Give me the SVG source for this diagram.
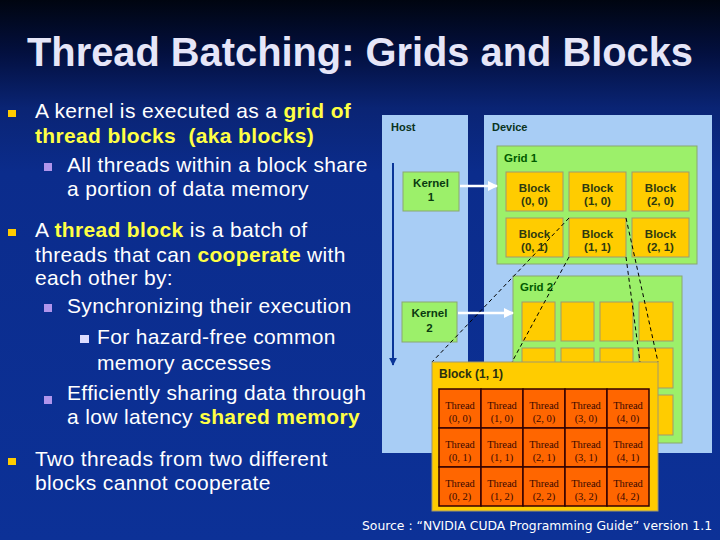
<svg xmlns="http://www.w3.org/2000/svg" width="720" height="540" viewBox="0 0 720 540">
<defs>
<linearGradient id="bg" x1="0" y1="0" x2="0" y2="1">
<stop offset="0" stop-color="#000510"/>
<stop offset="0.1" stop-color="#031040"/>
<stop offset="0.2" stop-color="#0a2474"/>
<stop offset="0.32" stop-color="#0b2c8c"/>
<stop offset="1" stop-color="#0c3197"/>
</linearGradient>
<marker id="wh" viewBox="0 0 10 10" refX="9" refY="5" markerWidth="4" markerHeight="4" orient="auto" markerUnits="strokeWidth">
<path d="M0,0 L10,5 L0,10 Z" fill="#ffffff"/>
</marker>
<marker id="bh" viewBox="0 0 10 10" refX="9" refY="5" markerWidth="4" markerHeight="4" orient="auto" markerUnits="strokeWidth">
<path d="M0,0 L10,5 L0,10 Z" fill="#0a3598"/>
</marker>
<style>
.t{font-family:"Liberation Sans",Arial,sans-serif;font-size:21px;fill:#ffffff;letter-spacing:0.35px}
.y{fill:#ffff44;font-weight:bold}
.lbl{font-family:"Liberation Sans",Arial,sans-serif;font-size:11px;font-weight:bold;fill:#0a3320}
.glbl{font-family:"Liberation Sans",Arial,sans-serif;font-size:11.5px;font-weight:bold;fill:#005a00}
.bt{font-family:"Liberation Sans",Arial,sans-serif;font-size:11.5px;font-weight:bold;fill:#2e3a10;text-anchor:middle}
.kt{font-family:"Liberation Sans",Arial,sans-serif;font-size:11.5px;font-weight:bold;fill:#0a3a10;text-anchor:middle}
.th{font-family:"Liberation Serif","Times New Roman",serif;font-size:10.5px;fill:#3a0800;text-anchor:middle}
.panel{fill:#a8cdf5}
.grid{fill:#9cf06a;stroke:#8aa870;stroke-width:1}
.blk{fill:#ffcc00;stroke:#a09870;stroke-width:1}
.cell{fill:#ff6600;stroke:#330000;stroke-width:1.5}
.dash{stroke:#000000;stroke-width:1;stroke-dasharray:4,3;fill:none}
.arr{stroke:#ffffff;stroke-width:2.5;fill:none}
.b1{fill:#ffcc00}
.b2{fill:#b095ec}
.b3{fill:#dcdcff}
</style>
</defs>
<rect width="720" height="540" fill="url(#bg)"/>
<text x="27" y="66" font-family="'Liberation Sans',Arial,sans-serif" font-size="40" font-weight="bold" fill="#e6e6f8" textLength="666" lengthAdjust="spacingAndGlyphs">Thread Batching: Grids and Blocks</text>

<g id="bullets">
<rect class="b1" x="8" y="110" width="8" height="7"/>
<text class="t" x="35" y="118">A kernel is executed as a <tspan class="y">grid of</tspan></text>
<text class="t" x="35" y="143" xml:space="preserve"><tspan class="y">thread blocks  (aka blocks)</tspan></text>
<rect class="b2" x="44" y="163" width="8" height="8"/>
<text class="t" x="67" y="172">All threads within a block share</text>
<text class="t" x="67" y="196">a portion of data memory</text>
<rect class="b1" x="8" y="229" width="8" height="7"/>
<text class="t" x="35" y="237">A <tspan class="y">thread block</tspan> is a batch of</text>
<text class="t" x="35" y="262">threads that can <tspan class="y">cooperate</tspan> with</text>
<text class="t" x="35" y="285">each other by:</text>
<rect class="b2" x="44" y="304" width="8" height="8"/>
<text class="t" x="67" y="313">Synchronizing their execution</text>
<rect class="b3" x="80" y="335" width="9" height="8"/>
<text class="t" x="97" y="344">For hazard-free common</text>
<text class="t" x="97" y="370">memory accesses</text>
<rect class="b2" x="44" y="396" width="8" height="8"/>
<text class="t" x="67" y="400">Efficiently sharing data through</text>
<text class="t" x="67" y="424">a low latency <tspan class="y">shared memory</tspan></text>
<rect class="b1" x="8" y="458" width="8" height="7"/>
<text class="t" x="35" y="466">Two threads from two different</text>
<text class="t" x="35" y="490">blocks cannot cooperate</text>
</g>

<g id="host">
<rect class="panel" x="382" y="115" width="86" height="338"/>
<text class="lbl" x="391" y="131">Host</text>
</g>
<g id="device">
<rect class="panel" x="484" y="115" width="228" height="338"/>
<text class="lbl" x="492" y="131">Device</text>
</g>

<g id="grid1">
<rect class="grid" x="497" y="146" width="200" height="118"/>
<text class="glbl" x="504" y="162">Grid 1</text>
</g>
<g id="block-0-0"><rect class="blk" x="506" y="172" width="57" height="39"/><text class="bt" x="534.5" y="192">Block</text><text class="bt" x="534.5" y="205">(0, 0)</text></g>
<g id="block-1-0"><rect class="blk" x="569" y="172" width="57" height="39"/><text class="bt" x="597.5" y="192">Block</text><text class="bt" x="597.5" y="205">(1, 0)</text></g>
<g id="block-2-0"><rect class="blk" x="632" y="172" width="57" height="39"/><text class="bt" x="660.5" y="192">Block</text><text class="bt" x="660.5" y="205">(2, 0)</text></g>
<g id="block-0-1"><rect class="blk" x="506" y="218" width="57" height="39"/><text class="bt" x="534.5" y="238">Block</text><text class="bt" x="534.5" y="251">(0, 1)</text></g>
<g id="block-1-1"><rect class="blk" x="569" y="218" width="57" height="39"/><text class="bt" x="597.5" y="238">Block</text><text class="bt" x="597.5" y="251">(1, 1)</text></g>
<g id="block-2-1"><rect class="blk" x="632" y="218" width="57" height="39"/><text class="bt" x="660.5" y="238">Block</text><text class="bt" x="660.5" y="251">(2, 1)</text></g>

<g id="kernel1">
<rect class="grid" x="403" y="172" width="56" height="39"/>
<text class="kt" x="431" y="186.5">Kernel</text>
<text class="kt" x="431" y="200.5">1</text>
</g>
<g id="kernel2">
<rect class="grid" x="402" y="302" width="55" height="40"/>
<text class="kt" x="429.5" y="317">Kernel</text>
<text class="kt" x="429.5" y="332">2</text>
</g>

<g id="grid2">
<rect class="grid" x="513" y="276" width="169" height="167"/>
<text class="glbl" x="520" y="291">Grid 2</text>
<rect class="blk" x="522" y="302" width="33" height="39"/>
<rect class="blk" x="561" y="302" width="33" height="39"/>
<rect class="blk" x="600" y="302" width="33" height="39"/>
<rect class="blk" x="639" y="302" width="34" height="39"/>
<rect class="blk" x="522" y="348" width="33" height="40"/>
<rect class="blk" x="561" y="348" width="33" height="40"/>
<rect class="blk" x="600" y="348" width="33" height="40"/>
<rect class="blk" x="639" y="348" width="34" height="40"/>
<rect class="blk" x="522" y="395" width="33" height="40"/>
<rect class="blk" x="561" y="395" width="33" height="40"/>
<rect class="blk" x="600" y="395" width="33" height="40"/>
<rect class="blk" x="639" y="395" width="34" height="40"/>
</g>

<g id="connectors">
<line x1="393" y1="163" x2="393" y2="365" stroke="#0a3598" stroke-width="2" marker-end="url(#bh)"/>
<line class="arr" x1="460" y1="186" x2="497" y2="186" marker-end="url(#wh)"/>
<line class="arr" x1="458" y1="313" x2="513" y2="313" marker-end="url(#wh)"/>
<line class="dash" x1="569" y1="218" x2="432" y2="362"/>
<line class="dash" x1="569" y1="257" x2="512" y2="362"/>
<line class="dash" x1="626" y1="218" x2="658" y2="362"/>
<line class="dash" x1="626" y1="257" x2="640" y2="362"/>
</g>

<g id="block-1-1-detail">
<rect class="blk" x="432" y="362" width="226" height="149"/>
<text x="439" y="378" font-family="'Liberation Sans',Arial,sans-serif" font-size="12" font-weight="bold" fill="#2a3010">Block (1, 1)</text>
<rect class="cell" x="439" y="389" width="42" height="39"/>
<rect class="cell" x="481" y="389" width="42" height="39"/>
<rect class="cell" x="523" y="389" width="42" height="39"/>
<rect class="cell" x="565" y="389" width="42" height="39"/>
<rect class="cell" x="607" y="389" width="42" height="39"/>
<rect class="cell" x="439" y="428" width="42" height="39"/>
<rect class="cell" x="481" y="428" width="42" height="39"/>
<rect class="cell" x="523" y="428" width="42" height="39"/>
<rect class="cell" x="565" y="428" width="42" height="39"/>
<rect class="cell" x="607" y="428" width="42" height="39"/>
<rect class="cell" x="439" y="467" width="42" height="39"/>
<rect class="cell" x="481" y="467" width="42" height="39"/>
<rect class="cell" x="523" y="467" width="42" height="39"/>
<rect class="cell" x="565" y="467" width="42" height="39"/>
<rect class="cell" x="607" y="467" width="42" height="39"/>
<text class="th" x="460" y="409">Thread</text><text class="th" x="460" y="422">(0, 0)</text>
<text class="th" x="502" y="409">Thread</text><text class="th" x="502" y="422">(1, 0)</text>
<text class="th" x="544" y="409">Thread</text><text class="th" x="544" y="422">(2, 0)</text>
<text class="th" x="586" y="409">Thread</text><text class="th" x="586" y="422">(3, 0)</text>
<text class="th" x="628" y="409">Thread</text><text class="th" x="628" y="422">(4, 0)</text>
<text class="th" x="460" y="448">Thread</text><text class="th" x="460" y="461">(0, 1)</text>
<text class="th" x="502" y="448">Thread</text><text class="th" x="502" y="461">(1, 1)</text>
<text class="th" x="544" y="448">Thread</text><text class="th" x="544" y="461">(2, 1)</text>
<text class="th" x="586" y="448">Thread</text><text class="th" x="586" y="461">(3, 1)</text>
<text class="th" x="628" y="448">Thread</text><text class="th" x="628" y="461">(4, 1)</text>
<text class="th" x="460" y="487">Thread</text><text class="th" x="460" y="500">(0, 2)</text>
<text class="th" x="502" y="487">Thread</text><text class="th" x="502" y="500">(1, 2)</text>
<text class="th" x="544" y="487">Thread</text><text class="th" x="544" y="500">(2, 2)</text>
<text class="th" x="586" y="487">Thread</text><text class="th" x="586" y="500">(3, 2)</text>
<text class="th" x="628" y="487">Thread</text><text class="th" x="628" y="500">(4, 2)</text>
</g>

<text x="362" y="530" font-family="'DejaVu Sans',Verdana,sans-serif" font-size="12.5" fill="#ffffff" textLength="350" lengthAdjust="spacingAndGlyphs">Source : “NVIDIA CUDA Programming Guide” version 1.1</text>
</svg>
